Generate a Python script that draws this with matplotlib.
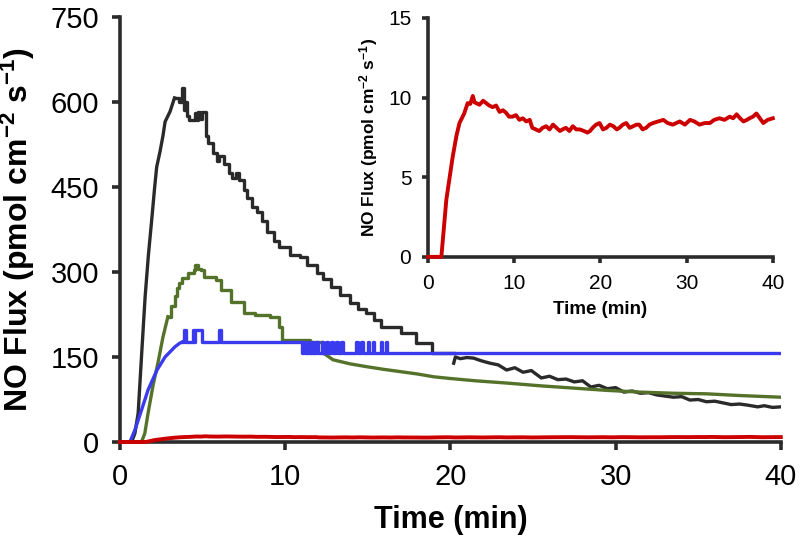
import matplotlib
matplotlib.use("Agg")
import matplotlib.pyplot as plt

plt.rcParams['font.family'] = ['Liberation Sans', 'DejaVu Sans']
plt.rcParams['mathtext.default'] = 'regular'

# black trace: smooth rise, stepped decay, noisy tail
black_rise_t = [0, 0.7, 0.9, 1.1, 1.3, 1.52, 1.72, 1.92, 2.1, 2.22, 2.42, 2.6, 2.73, 3.03, 3.3]
black_rise_v = [0, 0, 15, 51, 150, 256, 330, 392, 450, 485, 512, 540, 565, 583, 607]
black_step_t = [3.3, 3.6, 3.75, 3.85, 3.95, 4.05, 4.2, 4.55, 4.65, 4.75, 4.85, 4.95, 5.2,
                5.3, 5.6, 5.9, 6.0, 6.3, 6.6, 6.8, 7.0, 7.2, 7.5, 7.7, 8.0, 8.3, 8.6, 8.9,
                9.3, 9.6, 10.3, 10.9, 11.3, 11.9, 12.3, 12.8, 13.3, 13.9, 14.4, 14.9, 15.4,
                15.8, 17.0, 17.9, 18.9, 20.2]
black_step_v = [607, 600, 625, 585, 600, 575, 568, 580, 568, 582, 570, 582, 540,
                527, 510, 495, 505, 490, 475, 465, 475, 462, 445, 430, 415, 405, 390, 370,
                355, 344, 330, 326, 312, 298, 288, 274, 260, 245, 234, 227, 215,
                203, 192, 175, 157, 157]
black_tail_t = [20.2, 20.3, 20.6, 21.0, 21.4, 21.9, 22.4, 22.9, 23.4, 23.9, 24.4, 24.9,
                25.5, 26.0, 26.5, 27.0, 27.5, 28.0, 28.5, 29.0, 29.5, 30.0, 30.5, 31.0,
                31.5, 32.0, 32.5, 33.0, 33.5, 34.0, 34.5, 35.0, 35.5, 36.0, 36.5, 37.0,
                37.5, 38.0, 38.6, 39.0, 39.5, 40.0]
black_tail_v = [139, 150, 147, 149, 148, 143, 139, 136, 127, 131, 123, 126,
                113, 116, 110, 111, 106, 108, 97, 100, 94, 96, 88, 90,
                86, 87, 83, 81, 79, 80, 74, 75, 71, 72, 69, 66,
                67, 65, 62, 64, 61, 62]

# green trace
green_rise_t = [0, 1.3, 1.5, 1.7, 2.0, 2.3, 2.6, 2.9]
green_rise_v = [0, 0, 15, 51, 100, 140, 185, 221]
green_step_t = [2.9, 3.1, 3.3, 3.45, 3.6, 3.76, 4.1, 4.45, 4.55, 4.75, 4.9, 5.1, 5.8, 6.1,
                6.7, 7.5, 8.2, 9.1, 9.6, 9.8, 11.5, 12.3]
green_step_v = [221, 240, 258, 272, 280, 289, 298, 303, 313, 305, 303, 291, 286, 268,
                247, 227, 224, 221, 203, 180, 177, 157]
green_tail_t = [12.3, 12.9, 13.9, 14.9, 16.0, 17.0, 18.0, 19.0, 20.0, 21.5, 23.4, 25.5,
                27.5, 29.5, 31.5, 33.5, 35.5, 37.5, 40.0]
green_tail_v = [157, 145, 138, 133, 128, 124, 120, 115, 112, 108, 104, 99,
                95, 91, 88, 86, 85, 82, 79]

# blue trace
blue_rise_t = [0, 0.6, 0.9, 1.3, 1.7, 2.24, 2.73, 3.33, 3.6, 3.8]
blue_rise_v = [0, 0, 21, 56, 92, 127, 150, 168, 174, 177]
blue_step_t = [3.8, 3.9, 4.0, 4.4, 4.5, 4.55, 4.95, 6.0, 6.1, 11.0, 11.1, 11.2, 11.35,
               11.45, 11.6, 11.7, 11.85, 12.0, 12.2, 12.3, 12.45, 12.6, 12.75, 12.9,
               13.05, 13.2, 13.35, 13.5, 13.7, 14.3, 14.38, 14.6, 14.68, 15.0, 15.08,
               15.3, 15.38, 15.8, 15.88, 16.1, 16.18, 40.0]
blue_step_v = [177, 197, 177, 197, 177, 197, 177, 197, 177, 157, 177, 157, 177,
               157, 177, 157, 177, 157, 177, 157, 177, 157, 177, 157,
               177, 157, 177, 157, 157, 177, 157, 177, 157, 177, 157,
               177, 157, 177, 157, 177, 157, 157]

# red trace (shown in both panels)
red_t = [0, 1.55, 2.13, 2.87, 3.3, 3.65, 4.2, 4.6, 4.9, 5.2, 5.4, 5.97, 6.4, 6.75, 7.1,
         7.5, 7.9, 8.3, 8.7, 9.05, 9.4, 9.8, 10.2, 10.6, 11.0, 11.4, 11.8, 12.1, 12.5,
         12.9, 13.3, 13.7, 14.1, 14.5, 14.9, 15.3, 15.6, 16.0, 16.4, 16.8, 17.2, 17.6,
         18.1, 18.5, 18.8, 19.1, 19.5, 19.9, 20.3, 20.7, 21.1, 21.5, 21.9, 22.2, 22.6,
         23.0, 23.4, 23.8, 24.2, 24.5, 24.9, 25.3, 25.7, 26.1, 26.7, 27.3, 27.8, 28.4,
         28.8, 29.2, 29.8, 30.4, 30.9, 31.5, 32.1, 32.7, 33.2, 33.8, 34.4, 35.0, 35.4,
         35.8, 36.2, 36.6, 37.0, 37.3, 37.7, 38.1, 38.5, 38.9, 39.4, 40.0]
red_v = [0, 0, 3.6, 6.3, 7.6, 8.4, 9.0, 9.65, 9.6, 10.1, 9.7, 9.55, 9.8, 9.65, 9.5,
         9.4, 9.5, 9.1, 9.2, 9.05, 8.8, 8.8, 8.9, 8.6, 8.7, 8.5, 8.6, 8.1, 8.0,
         7.9, 8.1, 8.2, 8.0, 8.3, 8.1, 7.9, 8.0, 8.1, 7.9, 8.2, 8.0, 8.0,
         7.9, 7.8, 7.9, 8.1, 8.3, 8.4, 8.0, 8.1, 8.3, 8.2, 8.0, 8.1, 8.3,
         8.4, 8.1, 8.2, 8.3, 8.3, 8.0, 8.1, 8.3, 8.4, 8.5, 8.6, 8.4, 8.3,
         8.4, 8.5, 8.3, 8.6, 8.5, 8.3, 8.4, 8.4, 8.6, 8.7, 8.6, 8.8, 8.7,
         8.95, 8.7, 8.5, 8.6, 8.7, 8.8, 9.0, 8.7, 8.4, 8.6, 8.7]

main_yticks = [0, 150, 300, 450, 600, 750]
main_xticks = [0, 10, 20, 30, 40]
inset_yticks = [0, 5, 10, 15]
inset_xticks = [0, 10, 20, 30, 40]

spine_col = '#2b2b2b'
c_black = '#2a2a2a'
c_green = '#55722a'
c_blue = '#3a3aee'
c_red = '#cc0000'
lw = 2.4

fig = plt.figure(figsize=(8, 5.43), dpi=100)
ax = fig.add_axes([0.15, 0.186, 0.826, 0.783])

ax.plot(black_rise_t, black_rise_v, color=c_black, lw=lw)
ax.plot(black_step_t, black_step_v, color=c_black, lw=lw, drawstyle='steps-post')
ax.plot(black_tail_t, black_tail_v, color=c_black, lw=lw)
ax.plot(green_rise_t, green_rise_v, color=c_green, lw=lw)
ax.plot(green_step_t, green_step_v, color=c_green, lw=lw, drawstyle='steps-post')
ax.plot(green_tail_t, green_tail_v, color=c_green, lw=lw)
ax.plot(blue_rise_t, blue_rise_v, color=c_blue, lw=lw)
ax.plot(blue_step_t, blue_step_v, color=c_blue, lw=lw, drawstyle='steps-post')
ax.plot(red_t, red_v, color=c_red, lw=2.8, clip_on=False, zorder=5)

ax.set_xlim(0, 40)
ax.set_ylim(0, 750)
ax.set_xticks(main_xticks)
ax.set_yticks(main_yticks)
for s in ['top', 'right']:
    ax.spines[s].set_visible(False)
for s in ['left', 'bottom']:
    ax.spines[s].set_linewidth(2.6)
    ax.spines[s].set_color(spine_col)
ax.tick_params(direction='out', length=6, width=2.6, color=spine_col, labelsize=21, pad=9)
ax.set_xlabel('Time (min)', fontsize=22, fontweight='bold', labelpad=10)
ax.set_ylabel('NO Flux (pmol cm$^{-2}$ s$^{-1}$)', fontsize=23, fontweight='bold', labelpad=10)

ins = fig.add_axes([0.535, 0.527, 0.431, 0.44])
ins.plot(red_t, red_v, color=c_red, lw=2.8, clip_on=False, zorder=5)
ins.set_xlim(0, 40)
ins.set_ylim(0, 15)
ins.set_xticks(inset_xticks)
ins.set_yticks(inset_yticks)
for s in ['top', 'right']:
    ins.spines[s].set_visible(False)
for s in ['left', 'bottom']:
    ins.spines[s].set_linewidth(2.6)
    ins.spines[s].set_color(spine_col)
ins.tick_params(direction='out', length=4, width=2.6, color=spine_col, labelsize=15, pad=8)
ins.set_xlabel('Time (min)', fontsize=13.5, fontweight='bold', labelpad=6)
ins.set_ylabel('NO Flux (pmol cm$^{-2}$ s$^{-1}$)', fontsize=12.5, fontweight='bold', labelpad=6)

fig.savefig('out.png', dpi=100)
